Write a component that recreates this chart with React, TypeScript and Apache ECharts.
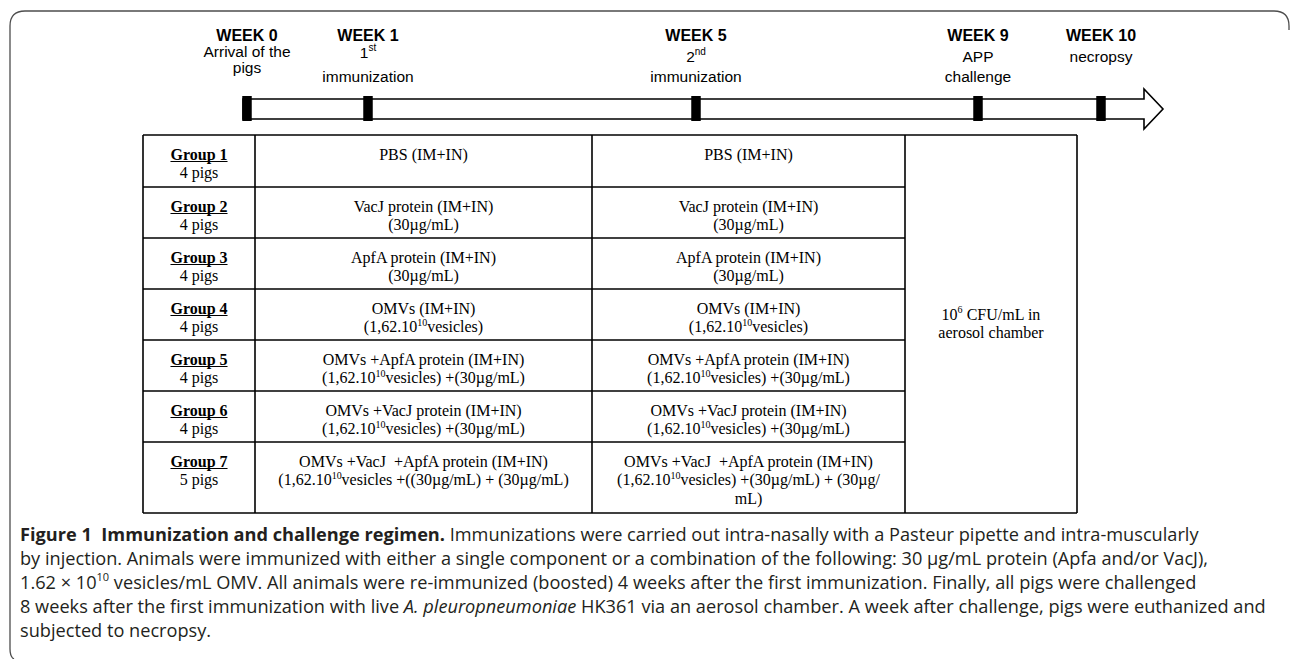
import { useEffect, useRef } from "react";
import * as echarts from "echarts";

// ---------- content ----------
const weekLabels = ["WEEK 0", "WEEK 1", "WEEK 5", "WEEK 9", "WEEK 10"];
const weekEvents = [
  ["Arrival of the", "pigs"],
  ["1^{st}", "immunization"],
  ["2^{nd}", "immunization"],
  ["APP", "challenge"],
  ["necropsy"],
];
const groupNames = ["Group 1", "Group 2", "Group 3", "Group 4", "Group 5", "Group 6", "Group 7"];
const groupSizes = ["4 pigs", "4 pigs", "4 pigs", "4 pigs", "4 pigs", "4 pigs", "5 pigs"];
const firstImmunization = [
  ["PBS (IM+IN)"],
  ["VacJ protein (IM+IN)", "(30µg/mL)"],
  ["ApfA protein (IM+IN)", "(30µg/mL)"],
  ["OMVs (IM+IN)", "(1,62.10^{10}vesicles)"],
  ["OMVs +ApfA protein (IM+IN)", "(1,62.10^{10}vesicles) +(30µg/mL)"],
  ["OMVs +VacJ protein (IM+IN)", "(1,62.10^{10}vesicles) +(30µg/mL)"],
  ["OMVs +VacJ  +ApfA protein (IM+IN)", "(1,62.10^{10}vesicles +((30µg/mL) + (30µg/mL)"],
];
const secondImmunization = [
  ["PBS (IM+IN)"],
  ["VacJ protein (IM+IN)", "(30µg/mL)"],
  ["ApfA protein (IM+IN)", "(30µg/mL)"],
  ["OMVs (IM+IN)", "(1,62.10^{10}vesicles)"],
  ["OMVs +ApfA protein (IM+IN)", "(1,62.10^{10}vesicles) +(30µg/mL)"],
  ["OMVs +VacJ protein (IM+IN)", "(1,62.10^{10}vesicles) +(30µg/mL)"],
  ["OMVs +VacJ  +ApfA protein (IM+IN)", "(1,62.10^{10}vesicles) +(30µg/mL) + (30µg/", "mL)"],
];
const challengeText = ["10^{6} CFU/mL in", "aerosol chamber"];
const captionLines = [
  "**Figure 1  Immunization and challenge regimen.** Immunizations were carried out intra-nasally with a Pasteur pipette and intra-muscularly",
  "by injection. Animals were immunized with either a single component or a combination of the following: 30 µg/mL protein (Apfa and/or VacJ),",
  "1.62 × 10^{10} vesicles/mL OMV. All animals were re-immunized (boosted) 4 weeks after the first immunization. Finally, all pigs were challenged",
  "8 weeks after the first immunization with live _{A. pleuropneumoniae} HK361 via an aerosol chamber. A week after challenge, pigs were euthanized and",
  "subjected to necropsy.",
];

// ---------- layout ----------
const W = 1293;
const H = 659;
const FRAME = { l: 10, t: 11, r: 1289, b: 659, rad: 15 };
const TL = { x0: 243, x1: 1144, y0: 99, y1: 119, tipX: 1163, headT: 89, headB: 129 };
const weekX = [247, 368, 696, 978, 1101];
const MARK = { w: 9.5, t: 96, b: 121 };
const headerY = [
  [35, 51, 67],
  [35, 52, 76],
  [35, 56, 76],
  [35, 56, 76],
  [35, 56],
];
const colX = [143, 255, 592, 905, 1077];
const rowY = [135, 187, 238, 289, 340, 391, 442, 513];
const CELL = { first: 19, step: 18.5 };
const challengeY = [314, 332];
const CAP = { x: 20, y0: 534, step: 24, width: 1258 };

const SANS = '"Liberation Sans", Arial, sans-serif';
const SERIF = '"Liberation Serif", "Times New Roman", serif';
const CAPF = '"Open Sans", "Noto Sans", sans-serif';

function toRich(s: string) {
  return s
    .replace(/\*\*(.+?)\*\*/g, "{b|$1}")
    .replace(/_\{(.+?)\}/g, "{i|$1}")
    .replace(/\^\{(.+?)\}/g, "{sup|$1}");
}
function plain(s: string) {
  return s
    .replace(/\*\*(.+?)\*\*/g, "$1")
    .replace(/_\{(.+?)\}/g, "$1")
    .replace(/\^\{(.+?)\}/g, "$1");
}
function measure(text: string, font: string) {
  const ctx = document.createElement("canvas").getContext("2d")!;
  ctx.font = font;
  return ctx.measureText(text).width;
}

function txt(x: number, y: number, s: string, size: number, family: string, opts: any = {}) {
  const fill = opts.fill || "#000";
  return {
    type: "text",
    x,
    y,
    silent: true,
    style: {
      text: toRich(s),
      align: opts.align || "center",
      verticalAlign: "middle",
      fontSize: size,
      fontFamily: family,
      fontWeight: opts.bold ? "bold" : "normal",
      lineHeight: Math.round(size * 1.2),
      fill,
      rich: {
        sup: { fontSize: Math.round(size * 0.62), fontFamily: family, verticalAlign: "top", lineHeight: Math.round(size * 0.62), fill },
        b: { fontSize: size, fontFamily: family, fontWeight: "bold", fill },
        i: { fontSize: size, fontFamily: family, fontStyle: "italic", fill },
      },
    },
  };
}

export default function App() {
  const ref = useRef<HTMLDivElement>(null);
  useEffect(() => {
    document.body.style.margin = "0";
    const chart = echarts.init(ref.current!, null, { renderer: "svg" });
    const f = FRAME;
    const d = `M ${f.l + 4} ${f.b} Q ${f.l} ${f.b - 2} ${f.l} ${f.b - 10} L ${f.l} ${f.t + f.rad} Q ${f.l} ${f.t} ${f.l + f.rad} ${f.t} L ${f.r - f.rad} ${f.t} Q ${f.r} ${f.t} ${f.r} ${f.t + f.rad} L ${f.r} ${f.t + f.rad + 4}`;
    echarts.graphic.registerShape("frameLine", echarts.graphic.extendPath(d, {}));

    const els: any[] = [];
    els.push({ type: "rect", shape: { x: 0, y: 0, width: W, height: H }, style: { fill: "#fff" }, silent: true });
    els.push({ type: "frameLine", x: 0, y: 0, style: { fill: "none", stroke: "#4d4d4d", lineWidth: 1.3 }, silent: true });

    // timeline arrow
    els.push({
      type: "polygon",
      shape: {
        points: [
          [TL.x0, TL.y0], [TL.x1, TL.y0], [TL.x1, TL.headT], [TL.tipX, (TL.y0 + TL.y1) / 2],
          [TL.x1, TL.headB], [TL.x1, TL.y1], [TL.x0, TL.y1],
        ],
      },
      style: { fill: "#fff", stroke: "#000", lineWidth: 1.6 },
      silent: true,
    });
    weekX.forEach((x) => {
      els.push({ type: "rect", shape: { x: x - MARK.w / 2, y: MARK.t, width: MARK.w, height: MARK.b - MARK.t }, style: { fill: "#000" }, silent: true });
    });
    weekLabels.forEach((w, i) => {
      els.push(txt(weekX[i], headerY[i][0], w, 16, SANS, { bold: true }));
      weekEvents[i].forEach((e, j) => els.push(txt(weekX[i], headerY[i][j + 1], e, 15.5, SANS)));
    });

    // table grid
    const lw = 1.6;
    const top = rowY[0];
    const bot = rowY[rowY.length - 1];
    colX.forEach((x) => els.push({ type: "line", shape: { x1: x, y1: top, x2: x, y2: bot }, style: { stroke: "#000", lineWidth: lw }, silent: true }));
    rowY.forEach((y, i) => {
      const full = i === 0 || i === rowY.length - 1;
      els.push({ type: "line", shape: { x1: colX[0], y1: y, x2: full ? colX[4] : colX[3], y2: y }, style: { stroke: "#000", lineWidth: lw }, silent: true });
    });

    const c1 = (colX[0] + colX[1]) / 2;
    const c2 = (colX[1] + colX[2]) / 2;
    const c3 = (colX[2] + colX[3]) / 2;
    const c4 = (colX[3] + colX[4]) / 2;
    const gFont = `bold 16px ${SERIF}`;
    groupNames.forEach((g, i) => {
      const y0 = rowY[i] + CELL.first;
      els.push(txt(c1, y0, g, 16, SERIF, { bold: true }));
      const gw = measure(g, gFont);
      els.push({ type: "line", shape: { x1: c1 - gw / 2, y1: y0 + 7.5, x2: c1 + gw / 2, y2: y0 + 7.5 }, style: { stroke: "#000", lineWidth: 1.2 }, silent: true });
      els.push(txt(c1, y0 + CELL.step, groupSizes[i], 16, SERIF));
      firstImmunization[i].forEach((s, j) => els.push(txt(c2, y0 + j * CELL.step, s, 16, SERIF)));
      secondImmunization[i].forEach((s, j) => els.push(txt(c3, y0 + j * CELL.step, s, 16, SERIF)));
    });
    challengeText.forEach((s, j) => els.push(txt(c4, challengeY[j], s, 16, SERIF)));

    // caption
    const ref4 = plain(captionLines[3]);
    const capSize = (100 * CAP.width) / measure(ref4, `100px ${CAPF}`);
    captionLines.forEach((s, i) => {
      els.push(txt(CAP.x, CAP.y0 + i * CAP.step, s, capSize, CAPF, { align: "left", fill: "#231f20" }));
    });

    chart.setOption({ animation: false, graphic: { elements: els } });
    return () => chart.dispose();
  }, []);
  return <div ref={ref} style={{ width: W, height: H }} />;
}
